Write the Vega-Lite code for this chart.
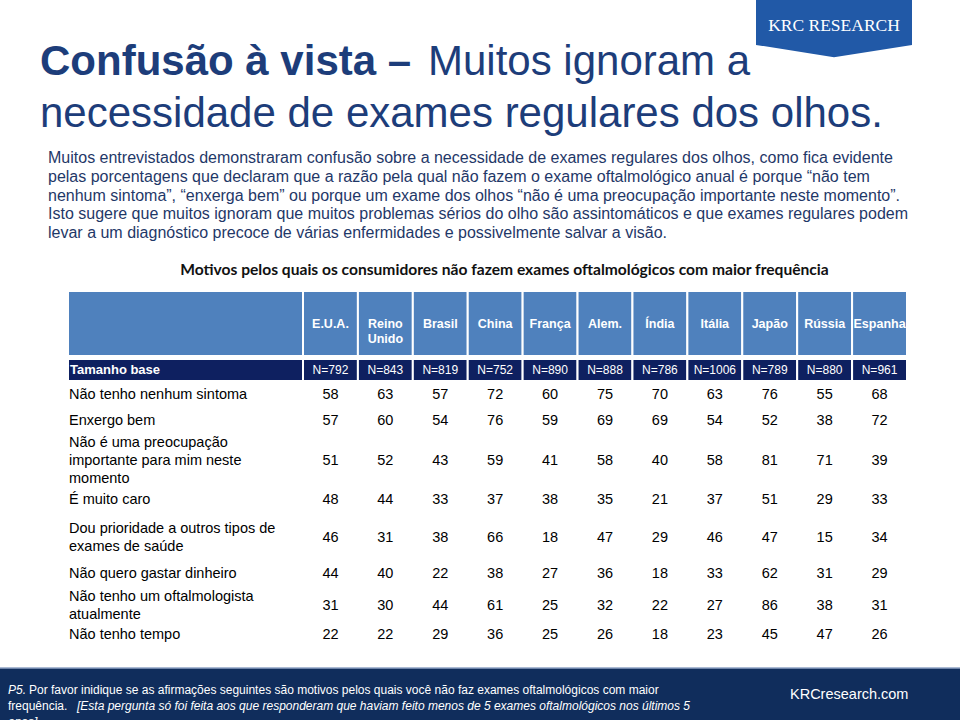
{
  "$schema": "https://vega.github.io/schema/vega-lite/v6.json",
  "width": 960,
  "height": 720,
  "autosize": {"type": "none"},
  "padding": 0,
  "background": "white",
  "config": {"view": {"stroke": null}},
  "datasets": {
    "brand": [{"name": "KRC RESEARCH"}],
    "title": [{"bold": "Confusão à vista –", "line1": "Muitos ignoram a", "line2": "necessidade de exames regulares dos olhos."}],
    "paragraph": [
      {"line": 1, "text": "Muitos entrevistados demonstraram confusão sobre a necessidade de exames regulares dos olhos, como fica evidente"},
      {"line": 2, "text": "pelas porcentagens que declaram que a razão pela qual não fazem o exame oftalmológico anual é porque “não tem"},
      {"line": 3, "text": "nenhum sintoma”, “enxerga bem” ou porque um exame dos olhos “não é uma preocupação importante neste momento”."},
      {"line": 4, "text": "Isto sugere que muitos ignoram que muitos problemas sérios do olho são assintomáticos e que exames regulares podem"},
      {"line": 5, "text": "levar a um diagnóstico precoce de várias enfermidades e possivelmente salvar a visão."}
    ],
    "subtitle": [{"text": "Motivos pelos quais os consumidores não fazem exames oftalmológicos com maior frequência"}],
    "corner": [{"label": "Tamanho base"}],
    "countries": [
      {"country": "E.U.A.", "base": "N=792"},
      {"country": "Reino Unido", "base": "N=843"},
      {"country": "Brasil", "base": "N=819"},
      {"country": "China", "base": "N=752"},
      {"country": "França", "base": "N=890"},
      {"country": "Alem.", "base": "N=888"},
      {"country": "Índia", "base": "N=786"},
      {"country": "Itália", "base": "N=1006"},
      {"country": "Japão", "base": "N=789"},
      {"country": "Rússia", "base": "N=880"},
      {"country": "Espanha", "base": "N=961"}
    ],
    "reasons": [
      {"rank": 1, "reason": "Não tenho nenhum sintoma", "label": "Não tenho nenhum sintoma"},
      {"rank": 2, "reason": "Enxergo bem", "label": "Enxergo bem"},
      {"rank": 3, "reason": "Não é uma preocupação importante para mim neste momento", "label": "Não é uma preocupação\nimportante para mim neste\nmomento"},
      {"rank": 4, "reason": "É muito caro", "label": "É muito caro"},
      {"rank": 5, "reason": "Dou prioridade a outros tipos de exames de saúde", "label": "Dou prioridade a outros tipos de\nexames de saúde"},
      {"rank": 6, "reason": "Não quero gastar dinheiro", "label": "Não quero gastar dinheiro"},
      {"rank": 7, "reason": "Não tenho um oftalmologista atualmente", "label": "Não tenho um oftalmologista\natualmente"},
      {"rank": 8, "reason": "Não tenho tempo", "label": "Não tenho tempo"}
    ],
    "cells": [
      {"reason": "Não tenho nenhum sintoma", "country": "E.U.A.", "value": 58},
      {"reason": "Não tenho nenhum sintoma", "country": "Reino Unido", "value": 63},
      {"reason": "Não tenho nenhum sintoma", "country": "Brasil", "value": 57},
      {"reason": "Não tenho nenhum sintoma", "country": "China", "value": 72},
      {"reason": "Não tenho nenhum sintoma", "country": "França", "value": 60},
      {"reason": "Não tenho nenhum sintoma", "country": "Alem.", "value": 75},
      {"reason": "Não tenho nenhum sintoma", "country": "Índia", "value": 70},
      {"reason": "Não tenho nenhum sintoma", "country": "Itália", "value": 63},
      {"reason": "Não tenho nenhum sintoma", "country": "Japão", "value": 76},
      {"reason": "Não tenho nenhum sintoma", "country": "Rússia", "value": 55},
      {"reason": "Não tenho nenhum sintoma", "country": "Espanha", "value": 68},
      {"reason": "Enxergo bem", "country": "E.U.A.", "value": 57},
      {"reason": "Enxergo bem", "country": "Reino Unido", "value": 60},
      {"reason": "Enxergo bem", "country": "Brasil", "value": 54},
      {"reason": "Enxergo bem", "country": "China", "value": 76},
      {"reason": "Enxergo bem", "country": "França", "value": 59},
      {"reason": "Enxergo bem", "country": "Alem.", "value": 69},
      {"reason": "Enxergo bem", "country": "Índia", "value": 69},
      {"reason": "Enxergo bem", "country": "Itália", "value": 54},
      {"reason": "Enxergo bem", "country": "Japão", "value": 52},
      {"reason": "Enxergo bem", "country": "Rússia", "value": 38},
      {"reason": "Enxergo bem", "country": "Espanha", "value": 72},
      {"reason": "Não é uma preocupação importante para mim neste momento", "country": "E.U.A.", "value": 51},
      {"reason": "Não é uma preocupação importante para mim neste momento", "country": "Reino Unido", "value": 52},
      {"reason": "Não é uma preocupação importante para mim neste momento", "country": "Brasil", "value": 43},
      {"reason": "Não é uma preocupação importante para mim neste momento", "country": "China", "value": 59},
      {"reason": "Não é uma preocupação importante para mim neste momento", "country": "França", "value": 41},
      {"reason": "Não é uma preocupação importante para mim neste momento", "country": "Alem.", "value": 58},
      {"reason": "Não é uma preocupação importante para mim neste momento", "country": "Índia", "value": 40},
      {"reason": "Não é uma preocupação importante para mim neste momento", "country": "Itália", "value": 58},
      {"reason": "Não é uma preocupação importante para mim neste momento", "country": "Japão", "value": 81},
      {"reason": "Não é uma preocupação importante para mim neste momento", "country": "Rússia", "value": 71},
      {"reason": "Não é uma preocupação importante para mim neste momento", "country": "Espanha", "value": 39},
      {"reason": "É muito caro", "country": "E.U.A.", "value": 48},
      {"reason": "É muito caro", "country": "Reino Unido", "value": 44},
      {"reason": "É muito caro", "country": "Brasil", "value": 33},
      {"reason": "É muito caro", "country": "China", "value": 37},
      {"reason": "É muito caro", "country": "França", "value": 38},
      {"reason": "É muito caro", "country": "Alem.", "value": 35},
      {"reason": "É muito caro", "country": "Índia", "value": 21},
      {"reason": "É muito caro", "country": "Itália", "value": 37},
      {"reason": "É muito caro", "country": "Japão", "value": 51},
      {"reason": "É muito caro", "country": "Rússia", "value": 29},
      {"reason": "É muito caro", "country": "Espanha", "value": 33},
      {"reason": "Dou prioridade a outros tipos de exames de saúde", "country": "E.U.A.", "value": 46},
      {"reason": "Dou prioridade a outros tipos de exames de saúde", "country": "Reino Unido", "value": 31},
      {"reason": "Dou prioridade a outros tipos de exames de saúde", "country": "Brasil", "value": 38},
      {"reason": "Dou prioridade a outros tipos de exames de saúde", "country": "China", "value": 66},
      {"reason": "Dou prioridade a outros tipos de exames de saúde", "country": "França", "value": 18},
      {"reason": "Dou prioridade a outros tipos de exames de saúde", "country": "Alem.", "value": 47},
      {"reason": "Dou prioridade a outros tipos de exames de saúde", "country": "Índia", "value": 29},
      {"reason": "Dou prioridade a outros tipos de exames de saúde", "country": "Itália", "value": 46},
      {"reason": "Dou prioridade a outros tipos de exames de saúde", "country": "Japão", "value": 47},
      {"reason": "Dou prioridade a outros tipos de exames de saúde", "country": "Rússia", "value": 15},
      {"reason": "Dou prioridade a outros tipos de exames de saúde", "country": "Espanha", "value": 34},
      {"reason": "Não quero gastar dinheiro", "country": "E.U.A.", "value": 44},
      {"reason": "Não quero gastar dinheiro", "country": "Reino Unido", "value": 40},
      {"reason": "Não quero gastar dinheiro", "country": "Brasil", "value": 22},
      {"reason": "Não quero gastar dinheiro", "country": "China", "value": 38},
      {"reason": "Não quero gastar dinheiro", "country": "França", "value": 27},
      {"reason": "Não quero gastar dinheiro", "country": "Alem.", "value": 36},
      {"reason": "Não quero gastar dinheiro", "country": "Índia", "value": 18},
      {"reason": "Não quero gastar dinheiro", "country": "Itália", "value": 33},
      {"reason": "Não quero gastar dinheiro", "country": "Japão", "value": 62},
      {"reason": "Não quero gastar dinheiro", "country": "Rússia", "value": 31},
      {"reason": "Não quero gastar dinheiro", "country": "Espanha", "value": 29},
      {"reason": "Não tenho um oftalmologista atualmente", "country": "E.U.A.", "value": 31},
      {"reason": "Não tenho um oftalmologista atualmente", "country": "Reino Unido", "value": 30},
      {"reason": "Não tenho um oftalmologista atualmente", "country": "Brasil", "value": 44},
      {"reason": "Não tenho um oftalmologista atualmente", "country": "China", "value": 61},
      {"reason": "Não tenho um oftalmologista atualmente", "country": "França", "value": 25},
      {"reason": "Não tenho um oftalmologista atualmente", "country": "Alem.", "value": 32},
      {"reason": "Não tenho um oftalmologista atualmente", "country": "Índia", "value": 22},
      {"reason": "Não tenho um oftalmologista atualmente", "country": "Itália", "value": 27},
      {"reason": "Não tenho um oftalmologista atualmente", "country": "Japão", "value": 86},
      {"reason": "Não tenho um oftalmologista atualmente", "country": "Rússia", "value": 38},
      {"reason": "Não tenho um oftalmologista atualmente", "country": "Espanha", "value": 31},
      {"reason": "Não tenho tempo", "country": "E.U.A.", "value": 22},
      {"reason": "Não tenho tempo", "country": "Reino Unido", "value": 22},
      {"reason": "Não tenho tempo", "country": "Brasil", "value": 29},
      {"reason": "Não tenho tempo", "country": "China", "value": 36},
      {"reason": "Não tenho tempo", "country": "França", "value": 25},
      {"reason": "Não tenho tempo", "country": "Alem.", "value": 26},
      {"reason": "Não tenho tempo", "country": "Índia", "value": 18},
      {"reason": "Não tenho tempo", "country": "Itália", "value": 23},
      {"reason": "Não tenho tempo", "country": "Japão", "value": 45},
      {"reason": "Não tenho tempo", "country": "Rússia", "value": 47},
      {"reason": "Não tenho tempo", "country": "Espanha", "value": 26}
    ],
    "footer": [{"site": "KRCresearch.com", "question": "P5.", "line1": "Por favor inidique se as afirmações seguintes são motivos pelos quais você não faz exames oftalmológicos com maior", "line2a": "frequência.", "line2b": "[Esta pergunta só foi feita aos que responderam que haviam feito menos de 5 exames oftalmológicos nos últimos 5", "line3": "anos]"}]
  },
  "resolve": {"scale": {"x": "independent", "y": "independent"}},
  "layer": [
    {
      "data": {"name": "footer"},
      "mark": {"type": "rect", "fill": "#102d5c"},
      "encoding": {
        "x": {"datum": 0, "type": "quantitative", "scale": {"domain": [0, 1], "range": [0, 960]}, "axis": null},
        "x2": {"datum": 1},
        "y": {"datum": 0, "type": "quantitative", "scale": {"domain": [0, 1], "range": [668, 720]}, "axis": null},
        "y2": {"datum": 1}
      }
    },
    {
      "data": {"name": "footer"},
      "mark": {"type": "rule", "stroke": "#8fa3c4", "strokeWidth": 1.5},
      "encoding": {
        "x": {"datum": 0, "type": "quantitative", "scale": {"domain": [0, 1], "range": [0, 960]}, "axis": null},
        "x2": {"datum": 1},
        "y": {"datum": 0, "type": "quantitative", "scale": {"domain": [0, 1], "range": [668, 720]}, "axis": null}
      }
    },
    {
      "data": {"name": "brand"},
      "mark": {"type": "point", "shape": "M -1 -0.37 L 1 -0.37 L 1 0.21 L 0 0.37 L -1 0.21 Z", "size": 24336, "filled": true, "fill": "#2159a7", "opacity": 1, "strokeWidth": 0},
      "encoding": {
        "x": {"field": "name", "type": "nominal", "scale": {"range": [756, 912]}, "axis": null},
        "y": {"field": "name", "type": "nominal", "scale": {"range": [0, 57]}, "axis": null}
      }
    },
    {
      "data": {"name": "brand"},
      "mark": {"type": "text", "font": "Liberation Serif", "fontSize": 17.5, "fill": "white", "baseline": "middle", "align": "center"},
      "encoding": {
        "x": {"field": "name", "type": "nominal", "scale": {"range": [756, 912]}, "axis": null},
        "y": {"field": "name", "type": "nominal", "scale": {"range": [0, 52]}, "axis": null},
        "text": {"field": "name"}
      }
    },
    {
      "data": {"name": "title"},
      "mark": {"type": "text", "font": "Liberation Sans", "fontSize": 42, "fontWeight": "bold", "fill": "#1d3d7a", "align": "left", "baseline": "alphabetic"},
      "encoding": {
        "x": {"datum": 0, "type": "quantitative", "scale": {"domain": [0, 1], "range": [40, 920]}, "axis": null},
        "y": {"datum": 0, "type": "quantitative", "scale": {"domain": [0, 1], "range": [75, 127]}, "axis": null},
        "text": {"field": "bold"}
      }
    },
    {
      "data": {"name": "title"},
      "mark": {"type": "text", "font": "Liberation Sans", "fontSize": 42, "fill": "#1d3d7a", "align": "left", "baseline": "alphabetic"},
      "encoding": {
        "x": {"datum": 0, "type": "quantitative", "scale": {"domain": [0, 1], "range": [428, 920]}, "axis": null},
        "y": {"datum": 0, "type": "quantitative", "scale": {"domain": [0, 1], "range": [75, 127]}, "axis": null},
        "text": {"field": "line1"}
      }
    },
    {
      "data": {"name": "title"},
      "mark": {"type": "text", "font": "Liberation Sans", "fontSize": 42, "fill": "#1d3d7a", "align": "left", "baseline": "alphabetic"},
      "encoding": {
        "x": {"datum": 0, "type": "quantitative", "scale": {"domain": [0, 1], "range": [40, 920]}, "axis": null},
        "y": {"datum": 1, "type": "quantitative", "scale": {"domain": [0, 1], "range": [75, 127]}, "axis": null},
        "text": {"field": "line2"}
      }
    },
    {
      "data": {"name": "paragraph"},
      "mark": {"type": "text", "font": "Liberation Sans", "fontSize": 16, "fill": "#1f3868", "align": "left", "baseline": "middle"},
      "encoding": {
        "x": {"datum": 0, "type": "quantitative", "scale": {"domain": [0, 1], "range": [48, 905]}, "axis": null},
        "y": {"field": "line", "type": "quantitative", "scale": {"domain": [1, 5], "range": [158, 233], "zero": false, "nice": false}, "axis": null},
        "text": {"field": "text"}
      }
    },
    {
      "data": {"name": "subtitle"},
      "mark": {"type": "text", "font": "Lato", "fontSize": 15.6, "fontWeight": "bold", "fill": "#111111", "align": "center", "baseline": "middle"},
      "encoding": {
        "x": {"datum": 0.5, "type": "quantitative", "scale": {"domain": [0, 1], "range": [178, 831]}, "axis": null},
        "y": {"datum": 0, "type": "quantitative", "scale": {"domain": [0, 1], "range": [270, 290]}, "axis": null},
        "text": {"field": "text"}
      }
    },
    {
      "data": {"name": "corner"},
      "mark": {"type": "rect", "fill": "#4f81bd", "stroke": "white", "strokeWidth": 2},
      "encoding": {
        "x": {"datum": 0, "type": "quantitative", "scale": {"domain": [0, 1], "range": [68, 303]}, "axis": null},
        "x2": {"datum": 1},
        "y": {"datum": 0, "type": "quantitative", "scale": {"domain": [0, 1], "range": [291, 356]}, "axis": null},
        "y2": {"datum": 1}
      }
    },
    {
      "data": {"name": "countries"},
      "mark": {"type": "rect", "fill": "#4f81bd", "stroke": "white", "strokeWidth": 2},
      "encoding": {
        "x": {"field": "country", "type": "nominal", "sort": null, "scale": {"type": "band", "range": [303, 907], "paddingInner": 0, "paddingOuter": 0}, "axis": null},
        "y": {"datum": 0, "type": "quantitative", "scale": {"domain": [0, 1], "range": [291, 356]}, "axis": null},
        "y2": {"datum": 1}
      }
    },
    {
      "data": {"name": "countries"},
      "mark": {"type": "text", "font": "Liberation Sans", "fontSize": 12.5, "fontWeight": "bold", "fill": "white", "align": "center", "baseline": "middle", "lineBreak": " ", "lineHeight": 15},
      "encoding": {
        "x": {"field": "country", "type": "nominal", "sort": null, "scale": {"type": "band", "range": [303, 907], "paddingInner": 0, "paddingOuter": 0}, "axis": null},
        "y": {"field": "base", "type": "nominal", "scale": {"type": "point", "range": [323.5, 323.5]}, "axis": null},
        "text": {"field": "country"}
      }
    },
    {
      "data": {"name": "corner"},
      "mark": {"type": "rect", "fill": "#0e2060", "stroke": "white", "strokeWidth": 2},
      "encoding": {
        "x": {"datum": 0, "type": "quantitative", "scale": {"domain": [0, 1], "range": [68, 303]}, "axis": null},
        "x2": {"datum": 1},
        "y": {"datum": 0, "type": "quantitative", "scale": {"domain": [0, 1], "range": [359, 381]}, "axis": null},
        "y2": {"datum": 1}
      }
    },
    {
      "data": {"name": "countries"},
      "mark": {"type": "rect", "fill": "#0e2060", "stroke": "white", "strokeWidth": 2},
      "encoding": {
        "x": {"field": "country", "type": "nominal", "sort": null, "scale": {"type": "band", "range": [303, 907], "paddingInner": 0, "paddingOuter": 0}, "axis": null},
        "y": {"datum": 0, "type": "quantitative", "scale": {"domain": [0, 1], "range": [359, 381]}, "axis": null},
        "y2": {"datum": 1}
      }
    },
    {
      "data": {"name": "corner"},
      "mark": {"type": "text", "font": "Liberation Sans", "fontSize": 13, "fontWeight": "bold", "fill": "white", "align": "left", "baseline": "middle"},
      "encoding": {
        "x": {"datum": 0, "type": "quantitative", "scale": {"domain": [0, 1], "range": [70, 303]}, "axis": null},
        "y": {"datum": 0.5, "type": "quantitative", "scale": {"domain": [0, 1], "range": [359, 381]}, "axis": null},
        "text": {"field": "label"}
      }
    },
    {
      "data": {"name": "countries"},
      "mark": {"type": "text", "font": "Liberation Sans", "fontSize": 12, "fill": "white", "align": "center", "baseline": "middle"},
      "encoding": {
        "x": {"field": "country", "type": "nominal", "sort": null, "scale": {"type": "band", "range": [303, 907], "paddingInner": 0, "paddingOuter": 0}, "axis": null},
        "y": {"datum": 0.5, "type": "quantitative", "scale": {"domain": [0, 1], "range": [359, 381]}, "axis": null},
        "text": {"field": "base"}
      }
    },
    {
      "data": {"name": "reasons"},
      "mark": {"type": "text", "font": "Liberation Sans", "fontSize": 14.5, "fill": "black", "align": "left", "baseline": "middle", "lineBreak": "\n", "lineHeight": 18},
      "encoding": {
        "x": {"datum": 0, "type": "quantitative", "scale": {"domain": [0, 1], "range": [69, 303]}, "axis": null},
        "y": {"field": "rank", "type": "quantitative", "scale": {"domain": [1, 2, 3, 4, 5, 6, 7, 8], "range": [395, 421, 443, 500, 529, 574, 597, 635], "zero": false, "nice": false}, "axis": null},
        "text": {"field": "label"}
      }
    },
    {
      "data": {"name": "cells"},
      "transform": [{"lookup": "reason", "from": {"data": {"name": "reasons"}, "key": "reason", "fields": ["rank"]}}],
      "mark": {"type": "text", "font": "Liberation Sans", "fontSize": 14.5, "fill": "black", "align": "center", "baseline": "middle"},
      "encoding": {
        "x": {"field": "country", "type": "nominal", "scale": {"type": "band", "domain": ["E.U.A.", "Reino Unido", "Brasil", "China", "França", "Alem.", "Índia", "Itália", "Japão", "Rússia", "Espanha"], "range": [303, 907], "paddingInner": 0, "paddingOuter": 0}, "axis": null},
        "y": {"field": "rank", "type": "quantitative", "scale": {"domain": [1, 2, 3, 4, 5, 6, 7, 8], "range": [395, 421, 461, 500, 538, 574, 606, 635], "zero": false, "nice": false}, "axis": null},
        "text": {"field": "value", "type": "quantitative"}
      }
    },
    {
      "data": {"name": "footer"},
      "mark": {"type": "text", "font": "Liberation Sans", "fontSize": 12, "fontStyle": "italic", "fill": "white", "align": "left", "baseline": "alphabetic"},
      "encoding": {
        "x": {"datum": 0, "type": "quantitative", "scale": {"domain": [0, 1], "range": [8, 960]}, "axis": null},
        "y": {"datum": 0, "type": "quantitative", "scale": {"domain": [0, 2], "range": [694, 726]}, "axis": null},
        "text": {"field": "question"}
      }
    },
    {
      "data": {"name": "footer"},
      "mark": {"type": "text", "font": "Liberation Sans", "fontSize": 12, "fill": "white", "align": "left", "baseline": "alphabetic"},
      "encoding": {
        "x": {"datum": 0, "type": "quantitative", "scale": {"domain": [0, 1], "range": [29, 960]}, "axis": null},
        "y": {"datum": 0, "type": "quantitative", "scale": {"domain": [0, 2], "range": [694, 726]}, "axis": null},
        "text": {"field": "line1"}
      }
    },
    {
      "data": {"name": "footer"},
      "mark": {"type": "text", "font": "Liberation Sans", "fontSize": 12, "fill": "white", "align": "left", "baseline": "alphabetic"},
      "encoding": {
        "x": {"datum": 0, "type": "quantitative", "scale": {"domain": [0, 1], "range": [8, 960]}, "axis": null},
        "y": {"datum": 1, "type": "quantitative", "scale": {"domain": [0, 2], "range": [694, 726]}, "axis": null},
        "text": {"field": "line2a"}
      }
    },
    {
      "data": {"name": "footer"},
      "mark": {"type": "text", "font": "Liberation Sans", "fontSize": 12, "fontStyle": "italic", "fill": "white", "align": "left", "baseline": "alphabetic"},
      "encoding": {
        "x": {"datum": 0, "type": "quantitative", "scale": {"domain": [0, 1], "range": [77, 960]}, "axis": null},
        "y": {"datum": 1, "type": "quantitative", "scale": {"domain": [0, 2], "range": [694, 726]}, "axis": null},
        "text": {"field": "line2b"}
      }
    },
    {
      "data": {"name": "footer"},
      "mark": {"type": "text", "font": "Liberation Sans", "fontSize": 12, "fontStyle": "italic", "fill": "white", "align": "left", "baseline": "alphabetic"},
      "encoding": {
        "x": {"datum": 0, "type": "quantitative", "scale": {"domain": [0, 1], "range": [8, 960]}, "axis": null},
        "y": {"datum": 2, "type": "quantitative", "scale": {"domain": [0, 2], "range": [694, 726]}, "axis": null},
        "text": {"field": "line3"}
      }
    },
    {
      "data": {"name": "footer"},
      "mark": {"type": "text", "font": "Liberation Sans", "fontSize": 14.5, "fill": "white", "align": "left", "baseline": "middle"},
      "encoding": {
        "x": {"datum": 0, "type": "quantitative", "scale": {"domain": [0, 1], "range": [790, 960]}, "axis": null},
        "y": {"datum": 0, "type": "quantitative", "scale": {"domain": [0, 1], "range": [695, 720]}, "axis": null},
        "text": {"field": "site"}
      }
    }
  ]
}
